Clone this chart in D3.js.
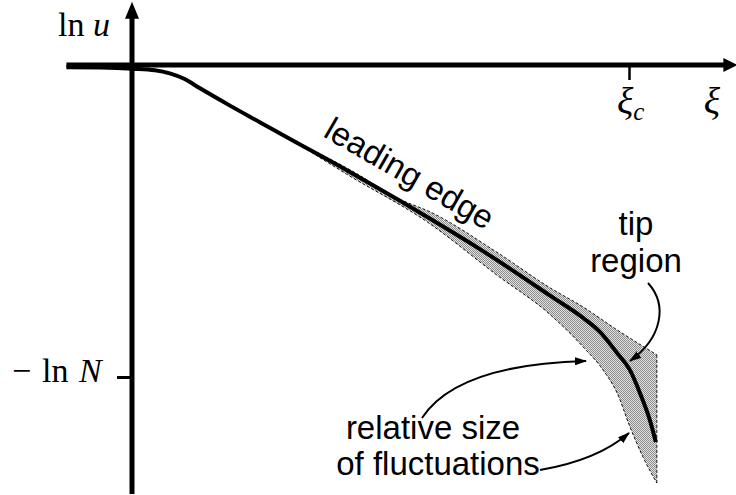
<!DOCTYPE html>
<html>
<head>
<meta charset="utf-8">
<script src="https://cdn.jsdelivr.net/npm/d3@7"></script>
<style>
  html, body { margin: 0; padding: 0; background: #fff; }
  svg { display: block; }
  .math { font-family: "Liberation Serif", "DejaVu Serif", serif; fill: #000; }
  .note { font-family: "Liberation Sans", Arial, sans-serif; font-size: 33px; fill: #000; }
</style>
</head>
<body>
<svg id="chart" width="736" height="495"></svg>
<script>
// Front profile ln u(ξ): ξ in units where ξ_c = 5, ln u in units where ln N = 10
const xiC = 5;
const lnN = 10;

const frontXi  = [-0.66, -0.32, 0.01, 0.23, 0.38, 0.53, 0.68, 0.99, 1.29, 1.59, 2.16, 2.70, 2.97, 3.50, 4.21, 4.54, 4.71, 4.88, 5.01, 5.11, 5.21, 5.27];
const frontLnU = [-0.07, -0.08, -0.12, -0.17, -0.27, -0.45, -0.74, -1.31, -1.84, -2.37, -3.37, -4.36, -4.87, -5.90, -7.40, -8.11, -8.56, -9.23, -9.78, -10.51, -11.38, -12.08];

// Envelope of the fluctuations around the mean front
const upperXi  = [1.59, 2.20, 2.70, 3.00, 3.67, 4.21, 4.54, 4.88, 5.28];
const upperLnU = [-2.37, -3.37, -4.31, -4.71, -6.00, -7.15, -7.76, -8.49, -9.29];
const lowerXi  = [1.59, 2.16, 2.97, 3.67, 4.21, 4.54, 4.74, 4.88, 5.01, 5.14, 5.28];
const lowerLnU = [-2.37, -3.50, -5.03, -6.73, -8.01, -9.04, -9.78, -10.51, -11.60, -12.56, -13.40];

// Axis extent
const xiMin = -0.66, xiMax = 6.09;
const lnUMax = 2.03, lnUMin = -13.75;

const svg = d3.select("#chart");

const x = d3.scaleLinear().domain([0, xiC]).range([132, 629]);
const y = d3.scaleLinear().domain([0, -lnN]).range([65, 377]);

const pts = (xs, ys) => xs.map((v, i) => [x(v), y(ys[i])]);
const front = pts(frontXi, frontLnU);
const upper = pts(upperXi, upperLnU);
const lower = pts(lowerXi, lowerLnU);

// stippled fill
const defs = svg.append("defs");
const pat = defs.append("pattern")
  .attr("id", "stipple").attr("patternUnits", "userSpaceOnUse")
  .attr("width", 2).attr("height", 2);
pat.append("rect").attr("width", 2).attr("height", 2).attr("fill", "#e2e2e2");
pat.append("rect").attr("x", 0).attr("y", 0).attr("width", 1).attr("height", 1).attr("fill", "#8c8c8c");
pat.append("rect").attr("x", 1).attr("y", 1).attr("width", 1).attr("height", 1).attr("fill", "#8c8c8c");

defs.append("marker")
  .attr("id", "head").attr("markerUnits", "userSpaceOnUse")
  .attr("viewBox", "0 0 12 8").attr("refX", 11).attr("refY", 4)
  .attr("markerWidth", 12).attr("markerHeight", 8).attr("orient", "auto")
  .append("path").attr("d", "M0,0 L12,4 L0,8 Z").attr("fill", "#000");

const smooth = d3.line().curve(d3.curveMonotoneX);

// lower edge traced from its right end back to the left on the same monotone curve
function reverseSmooth(p) {
  const mirrored = smooth(p.map(([a, b]) => [-a, b]).reverse());
  return mirrored.replace(/^M/, "L").replace(/(-?\d+\.?\d*(?:e-?\d+)?),(-?\d+\.?\d*(?:e-?\d+)?)/g,
    (m, a, b) => `${-parseFloat(a)},${b}`);
}

// envelope band: upper edge, right edge, lower edge back
svg.append("path")
  .attr("d", smooth(upper) + reverseSmooth(lower) + "Z")
  .attr("fill", "url(#stipple)").attr("stroke", "none");

const dash = g => g.attr("fill", "none").attr("stroke", "#111").attr("stroke-width", 1).attr("stroke-dasharray", "3,2");
svg.append("path").attr("d", smooth(upper)).call(dash);
svg.append("path").attr("d", smooth(lower)).call(dash);
svg.append("path").attr("d", d3.line()([upper[upper.length - 1], lower[lower.length - 1]])).call(dash);

// axes
const axisW = 5;
svg.append("line")
  .attr("x1", x(xiMin)).attr("x2", x(xiMax) - 12)
  .attr("y1", y(0)).attr("y2", y(0))
  .attr("stroke", "#000").attr("stroke-width", axisW);
svg.append("path")
  .attr("d", `M${x(xiMax)},${y(0)} L${x(xiMax) - 14},${y(0) - 7} L${x(xiMax) - 14},${y(0) + 7} Z`)
  .attr("fill", "#000");
svg.append("line")
  .attr("x1", x(0)).attr("x2", x(0))
  .attr("y1", y(lnUMin)).attr("y2", y(lnUMax) + 12)
  .attr("stroke", "#000").attr("stroke-width", axisW);
svg.append("path")
  .attr("d", `M${x(0)},${y(lnUMax)} L${x(0) - 7},${y(lnUMax) + 17} L${x(0) + 7},${y(lnUMax) + 17} Z`)
  .attr("fill", "#000");

// ticks at ξ_c and −ln N
const xAxis = svg.append("g").attr("transform", `translate(0,${y(0)})`)
  .call(d3.axisBottom(x).tickValues([xiC]).tickSize(15).tickSizeOuter(0).tickFormat(""));
xAxis.select(".domain").remove();
xAxis.selectAll("line").attr("stroke", "#000").attr("stroke-width", 2.5);

const yAxis = svg.append("g").attr("transform", `translate(${x(0)},0)`)
  .call(d3.axisLeft(y).tickValues([-lnN]).tickSize(15).tickSizeOuter(0).tickFormat(""));
yAxis.select(".domain").remove();
yAxis.selectAll("line").attr("stroke", "#000").attr("stroke-width", 3);

// mean front
svg.append("path").attr("d", smooth(front))
  .attr("fill", "none").attr("stroke", "#000").attr("stroke-width", 4)
  .attr("stroke-linecap", "butt").attr("stroke-linejoin", "round");

// math labels
const lnu = svg.append("text").attr("class", "math").attr("y", 36).attr("font-size", 34);
lnu.append("tspan").attr("x", 58).text("ln");
lnu.append("tspan").attr("x", 93).attr("font-style", "italic").text("u");

const lnNLabel = svg.append("text").attr("class", "math").attr("y", 382).attr("font-size", 34);
lnNLabel.append("tspan").attr("x", 12).text("−");
lnNLabel.append("tspan").attr("x", 42).text("ln");
lnNLabel.append("tspan").attr("x", 79).attr("font-style", "italic").text("N");

const xic = svg.append("text").attr("class", "math").attr("x", x(xiC) - 12).attr("y", 114).attr("font-size", 38);
xic.append("tspan").attr("font-style", "italic").text("ξ");
xic.append("tspan").attr("font-style", "italic").attr("font-size", 25).attr("dy", 6).text("c");

svg.append("text").attr("class", "math").attr("x", 712).attr("y", 114)
  .attr("font-size", 38).attr("font-style", "italic").attr("text-anchor", "middle").text("ξ");

// annotations
svg.append("text").attr("class", "note")
  .attr("transform", "translate(322,136) rotate(30)").text("leading edge");

svg.append("text").attr("class", "note").attr("x", 636).attr("y", 235).attr("text-anchor", "middle").text("tip");
svg.append("text").attr("class", "note").attr("x", 636).attr("y", 272).attr("text-anchor", "middle").text("region");
svg.append("text").attr("class", "note").attr("x", 433).attr("y", 439).attr("text-anchor", "middle").text("relative size");
svg.append("text").attr("class", "note").attr("x", 438).attr("y", 475).attr("text-anchor", "middle").text("of fluctuations");

const arrow = d => svg.append("path").attr("d", d)
  .attr("fill", "none").attr("stroke", "#000").attr("stroke-width", 2)
  .attr("marker-end", "url(#head)");
arrow("M648,283 C668,305 662,338 630,361");
arrow("M422,418 C448,378 512,363 586,361");
arrow("M540,470 C575,464 607,452 629,433");
</script>
</body>
</html>
